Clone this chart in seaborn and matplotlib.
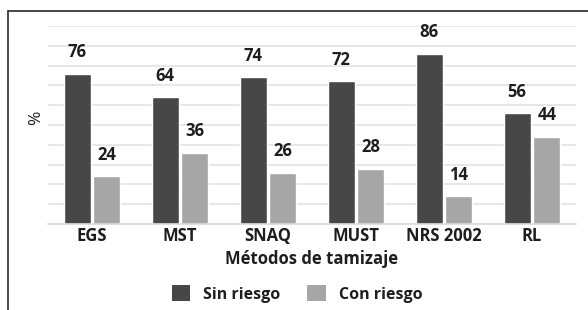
import matplotlib
matplotlib.use("Agg")
import matplotlib.pyplot as plt
import seaborn as sns
import pandas as pd
from matplotlib.lines import Line2D
from matplotlib.patches import Patch

categories = ["EGS", "MST", "SNAQ", "MUST", "NRS 2002", "RL"]
sin_riesgo = [76, 64, 74, 72, 86, 56]
con_riesgo = [24, 36, 26, 28, 14, 44]
series = ["Sin riesgo", "Con riesgo"]

df = pd.DataFrame({
    "metodo": categories * 2,
    "valor": sin_riesgo + con_riesgo,
    "serie": [series[0]] * len(categories) + [series[1]] * len(categories),
})

sns.set_theme(style="white")
plt.rcParams["font.family"] = ["Open Sans", "DejaVu Sans"]

DARK = "#474747"
LIGHT = "#a6a6a6"
TXT = "#1e1e1e"
FS = 12

fig = plt.figure(figsize=(5.88, 3.10), dpi=100)
ax = fig.add_axes([48 / 588, 86 / 310, 528 / 588, 198 / 310])

sns.barplot(data=df, x="metodo", y="valor", hue="serie", order=categories,
            hue_order=series, palette=[DARK, LIGHT], width=0.68, gap=0.1,
            ax=ax, legend=False, saturation=1)

ax.set_ylim(0, 100)
ax.set_yticks(range(0, 101, 10))
ax.set_yticklabels([])
ax.tick_params(axis="y", length=0)
ax.tick_params(axis="x", length=0, pad=2)
ax.yaxis.grid(True, color="#e3e3e3", linewidth=1.2)
ax.set_axisbelow(True)
for s in ["top", "right", "left"]:
    ax.spines[s].set_visible(False)
ax.spines["bottom"].set_color("#d9d9d9")
ax.spines["bottom"].set_linewidth(1.2)

for lab in ax.get_xticklabels():
    lab.set_fontsize(FS)
    lab.set_fontweight("bold")
    lab.set_color(TXT)

for i, cont in enumerate(ax.containers):
    ax.bar_label(cont, padding=9, fontsize=FS, fontweight="bold", color=TXT)

ax.set_xlabel("Métodos de tamizaje", fontsize=FS, fontweight="bold",
              color=TXT, labelpad=4)
ax.set_ylabel("%", fontsize=12.5, color=TXT)
ax.yaxis.set_label_coords(-4 / 528, 0.535)

handles = [Patch(facecolor=DARK, edgecolor="none"),
           Patch(facecolor=LIGHT, edgecolor="none")]
leg = fig.legend(handles, series, loc="center", bbox_to_anchor=(297 / 588, 1 - 294 / 310),
                 ncol=2, frameon=False, handlelength=1.15, handleheight=1.15,
                 columnspacing=1.7, handletextpad=0.8,
                 prop={"weight": "bold", "size": 11.5})
for t in leg.get_texts():
    t.set_color(TXT)

fig.add_artist(Line2D([7.5 / 588, 1.0], [1 - 10.5 / 310, 1 - 10.5 / 310],
                      color="#3a3a3a", linewidth=1.3, transform=fig.transFigure))
fig.add_artist(Line2D([7.5 / 588, 7.5 / 588], [0, 1 - 10.5 / 310],
                      color="#3a3a3a", linewidth=1.3, transform=fig.transFigure))

fig.savefig("out.png", dpi=100)
